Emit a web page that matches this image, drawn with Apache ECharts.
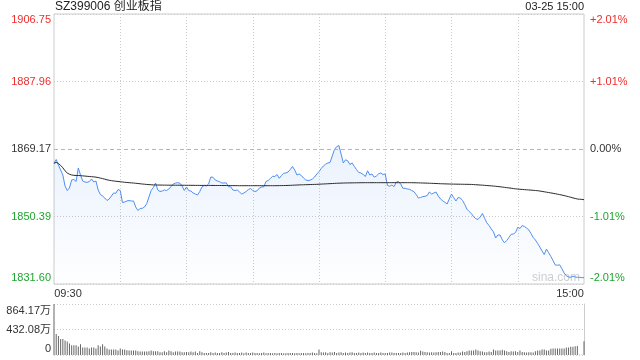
<!DOCTYPE html>
<html><head><meta charset="utf-8">
<script src="https://cdn.jsdelivr.net/npm/echarts@6/dist/echarts.min.js"></script>
<style>html,body{margin:0;padding:0;background:#fff}#c{width:640px;height:360px}</style>
</head><body><div id="c"></div>
<script>
const chartTitle = 'SZ399006 创业板指';
const stamp = '03-25 15:00';
const watermark = 'sina.com';
const prevClose = 1869.17;
const priceMin = 1831.60, priceMax = 1906.75;
const pctMax = 2.01;
const priceTickLabels = ['1831.60','1850.39','1869.17','1887.96','1906.75'];
const pctTickLabels = ['-2.01%','-1.01%','0.00%','+1.01%','+2.01%'];
const volMax = 864.17;
const volTickLabels = ['0','432.08万','864.17万'];
const timeLabels = ['09:30','15:00'];

const price = [
1865.20,1866.25,1864.72,1863.33,1861.94,1858.88,1857.62,1858.32,1860.55,1860.69,
1860.13,1863.89,1861.94,1860.27,1859.99,1859.91,1860.13,1860.83,1859.99,1860.27,
1857.76,1856.51,1856.09,1855.54,1854.84,1855.26,1856.09,1856.93,1856.85,1857.90,
1857.62,1854.28,1854.42,1854.70,1854.84,1854.70,1854.70,1853.03,1852.06,1852.61,
1852.67,1853.03,1854.01,1855.82,1857.62,1858.46,1859.71,1857.76,1857.34,1857.48,
1857.76,1857.62,1858.04,1858.74,1859.43,1859.68,1859.80,1859.66,1858.88,1857.62,
1858.60,1857.62,1857.48,1856.93,1856.65,1856.37,1857.34,1858.60,1859.02,1858.88,
1859.43,1861.38,1861.30,1860.55,1860.27,1860.07,1859.71,1859.71,1859.77,1858.68,
1858.68,1857.76,1857.62,1857.76,1857.21,1856.65,1856.93,1857.34,1857.90,1858.18,
1857.62,1857.34,1857.57,1858.32,1858.60,1858.65,1860.13,1860.41,1860.97,1861.58,
1861.52,1862.08,1861.02,1861.80,1862.41,1862.50,1862.78,1863.47,1864.31,1863.33,
1861.94,1862.22,1861.80,1861.10,1860.55,1860.41,1860.49,1860.83,1861.38,1862.22,
1862.86,1863.75,1864.44,1864.95,1865.28,1865.42,1867.23,1869.04,1869.82,1870.15,
1867.78,1865.28,1866.17,1865.89,1864.86,1865.28,1864.31,1863.42,1862.64,1862.50,
1862.08,1861.52,1863.11,1861.94,1862.22,1861.33,1861.66,1862.27,1862.50,1862.08,
1862.22,1859.02,1858.82,1859.16,1858.71,1859.99,1860.13,1859.43,1858.24,1858.24,
1858.04,1857.96,1857.62,1857.29,1856.51,1855.54,1855.68,1855.93,1856.01,1856.23,
1857.21,1856.65,1856.93,1857.21,1856.09,1855.26,1854.76,1854.34,1853.87,1855.26,
1856.65,1855.68,1854.70,1855.68,1855.54,1854.84,1853.73,1852.42,1851.78,1851.22,
1850.33,1849.78,1849.58,1850.25,1851.22,1849.89,1848.63,1847.88,1846.91,1846.13,
1844.40,1845.24,1845.24,1843.90,1843.07,1843.71,1844.54,1845.43,1845.51,1845.93,
1847.38,1847.05,1847.85,1847.60,1847.18,1846.68,1845.65,1844.54,1843.85,1842.87,
1841.90,1840.79,1839.81,1841.34,1840.29,1839.26,1838.06,1836.89,1836.83,1836.94,
1835.83,1834.66,1833.88,1833.55,1833.46,1833.77,1833.55,1833.46,1833.46,1833.38,
1833.35];

const avgPrice = [
1865.20,1865.45,1865.15,1864.60,1863.95,1863.10,1862.50,1862.15,1861.95,1861.85,
1861.80,1861.80,1861.76,1861.70,1861.64,1861.58,1861.52,1861.47,1861.42,1861.34,
1861.22,1861.08,1860.93,1860.78,1860.60,1860.47,1860.37,1860.28,1860.20,1860.13,
1860.07,1859.99,1859.92,1859.86,1859.80,1859.75,1859.70,1859.64,1859.57,1859.50,
1859.43,1859.37,1859.31,1859.26,1859.22,1859.18,1859.16,1859.15,1859.14,1859.13,
1859.12,1859.11,1859.10,1859.10,1859.09,1859.09,1859.09,1859.09,1859.08,1859.08,
1859.07,1859.07,1859.06,1859.06,1859.05,1859.05,1859.04,1859.04,1859.04,1859.03,
1859.03,1859.03,1859.03,1859.02,1859.02,1859.02,1859.01,1859.01,1859.00,1859.00,
1858.99,1858.98,1858.97,1858.97,1858.96,1858.96,1858.96,1858.96,1858.96,1858.96,
1858.96,1858.96,1858.96,1858.96,1858.96,1858.96,1858.96,1858.96,1858.96,1858.96,
1858.96,1858.97,1858.98,1858.99,1859.00,1859.02,1859.04,1859.06,1859.09,1859.12,
1859.15,1859.18,1859.20,1859.22,1859.24,1859.26,1859.28,1859.30,1859.32,1859.34,
1859.38,1859.41,1859.44,1859.47,1859.50,1859.53,1859.56,1859.60,1859.63,1859.66,
1859.68,1859.70,1859.72,1859.73,1859.74,1859.75,1859.76,1859.77,1859.78,1859.79,
1859.79,1859.80,1859.80,1859.80,1859.80,1859.80,1859.80,1859.80,1859.80,1859.80,
1859.80,1859.80,1859.80,1859.80,1859.80,1859.80,1859.80,1859.80,1859.80,1859.80,
1859.80,1859.80,1859.79,1859.78,1859.77,1859.75,1859.73,1859.71,1859.69,1859.67,
1859.65,1859.62,1859.60,1859.57,1859.54,1859.51,1859.49,1859.47,1859.45,1859.43,
1859.41,1859.40,1859.39,1859.38,1859.37,1859.36,1859.35,1859.34,1859.33,1859.31,
1859.27,1859.23,1859.19,1859.15,1859.11,1859.06,1859.01,1858.96,1858.91,1858.86,
1858.80,1858.73,1858.66,1858.58,1858.50,1858.42,1858.34,1858.26,1858.17,1858.08,
1858.02,1857.97,1857.92,1857.87,1857.82,1857.78,1857.73,1857.68,1857.62,1857.57,
1857.48,1857.38,1857.27,1857.16,1857.05,1856.95,1856.84,1856.72,1856.60,1856.48,
1856.35,1856.21,1856.06,1855.90,1855.74,1855.57,1855.41,1855.25,1855.20,1855.15,
1855.07];

const volume = [
864.17,356,321,269,269,245,228,193,164,164,
164,146,181,128,128,128,111,128,128,111,
164,146,181,146,111,93,93,93,93,76,
111,93,93,82,76,76,76,76,64,58,
58,58,58,64,76,64,64,64,47,47,
64,47,76,64,47,58,58,58,47,47,
52,47,58,47,58,35,64,47,35,35,
35,47,35,41,35,35,47,35,41,52,
35,35,41,35,35,41,29,41,35,35,
41,35,35,29,35,41,29,35,35,29,
35,29,35,35,29,29,35,35,35,29,
35,29,35,35,29,35,35,41,35,29,
93,47,41,47,35,47,41,52,35,41,
47,35,41,35,41,47,35,35,41,35,
41,35,41,35,35,41,35,35,41,35,
35,35,41,41,35,35,35,35,41,35,
41,47,52,52,47,41,70,58,52,47,
41,47,41,47,52,52,58,52,35,35,
64,35,35,41,41,58,52,64,76,76,
76,93,76,64,58,47,47,58,52,93,
76,76,76,88,76,64,52,64,58,64,
52,76,52,47,41,47,47,41,64,76,
76,93,93,76,76,105,111,111,111,111,
111,111,128,128,140,140,150,153,4,4,
234];

const times = [];
for (let i = 0; i <= 240; i++) {
  const m = i <= 120 ? 9 * 60 + 30 + i : 13 * 60 + (i - 120);
  times.push(String(Math.floor(m / 60)).padStart(2, '0') + ':' + String(m % 60).padStart(2, '0'));
}

const FONT = 'Arial, "Liberation Sans", "Noto Sans CJK SC", sans-serif';
const RED = '#f02c2c', GREEN = '#1fa52f', DARK = '#333';
const pctInterval = pctMax / 2;
const lblColors = [GREEN, GREEN, DARK, RED, RED];
function richFor(colors, padTop, padBot) {
  const r = {};
  colors.forEach((c, k) => {
    const s = {color: c, fontSize: 11, fontFamily: FONT};
    if (k === 0) s.padding = [0, 0, padBot, 0];
    if (k === colors.length - 1) s.padding = [padTop, 0, 0, 0];
    r['p' + k] = s;
  });
  return r;
}

const chart = echarts.init(document.getElementById('c'), null, {renderer: 'canvas'});
chart.setOption({
  animation: false,
  backgroundColor: '#fff',
  title: [
    {text: chartTitle, left: 55, top: 1, padding: 0, textStyle: {fontSize: 12, fontWeight: 'normal', color: '#222', fontFamily: FONT}},
    {text: stamp, right: 56, top: 1, padding: 0, textStyle: {fontSize: 11, fontWeight: 'normal', color: '#222', fontFamily: FONT}}
  ],
  graphic: [{type: 'text', left: 532, top: 272, silent: true, style: {text: watermark, fill: '#cfcfcf', font: '12px ' + FONT}}],
  grid: [
    {left: 54, right: 56, top: 14, height: 270, show: true, borderColor: '#cccccc', borderWidth: 1, backgroundColor: 'transparent'},
    {left: 54, right: 56, top: 304, height: 51}
  ],
  xAxis: [
    {type: 'category', gridIndex: 0, data: times, boundaryGap: false,
     axisLine: {show: false}, axisTick: {show: false},
     axisLabel: {interval: (i) => i === 0 || i === 240, margin: 4,
       formatter: (v, i) => i === 0 ? '{l|' + timeLabels[0] + '}' : '{r|' + timeLabels[1] + '}',
       rich: {l: {padding: [0, 0, 0, 28], fontSize: 11, color: DARK, fontFamily: FONT},
              r: {padding: [0, 28, 0, 0], fontSize: 11, color: DARK, fontFamily: FONT}}},
     splitLine: {show: true, interval: (i) => i % 30 === 0 && i > 0 && i < 240, lineStyle: {color: '#cccccc', type: [1, 2]}}},
    {type: 'category', gridIndex: 1, data: times, boundaryGap: false,
     axisLine: {show: false}, axisTick: {show: false}, axisLabel: {show: false}, splitLine: {show: false}}
  ],
  yAxis: [
    {type: 'value', gridIndex: 0, position: 'left', min: -pctMax, max: pctMax, interval: pctInterval,
     axisLine: {show: false}, axisTick: {show: false},
     axisLabel: {margin: 3, formatter: (v) => { const k = Math.round((v + pctMax) / pctInterval); return '{p' + k + '|' + priceTickLabels[k] + '}'; },
       rich: richFor(lblColors, 12, 12)},
     splitLine: {show: true, lineStyle: {color: ['#cccccc', '#cccccc', 'rgba(0,0,0,0)', '#cccccc', '#cccccc'], type: [1, 2]}}},
    {type: 'value', gridIndex: 0, position: 'right', min: -pctMax, max: pctMax, interval: pctInterval,
     axisLine: {show: false}, axisTick: {show: false}, splitLine: {show: false},
     axisLabel: {margin: 6, formatter: (v) => { const k = Math.round((v + pctMax) / pctInterval); return '{p' + k + '|' + pctTickLabels[k] + '}'; },
       rich: richFor(lblColors, 12, 12)}},
    {type: 'value', gridIndex: 0, min: priceMin, max: priceMax, show: false, splitLine: {show: false}},
    {type: 'value', gridIndex: 1, position: 'left', min: 0, max: volMax, interval: volMax / 2,
     axisLine: {show: false}, axisTick: {show: false},
     axisLabel: {margin: 3, formatter: (v) => { const k = Math.round(v / (volMax / 2)); return '{p' + k + '|' + volTickLabels[k] + '}'; },
       rich: richFor([DARK, DARK, DARK], 14, 12)},
     splitLine: {show: true, lineStyle: {color: '#cccccc', type: [1, 2]}}},
    {type: 'value', gridIndex: 1, position: 'right', min: 0, max: volMax, interval: volMax / 2,
     axisLine: {show: true, lineStyle: {color: '#cccccc'}}, axisTick: {show: false}, axisLabel: {show: false}, splitLine: {show: false}}
  ],
  series: [
    {type: 'line', name: 'price', xAxisIndex: 0, yAxisIndex: 2, data: price, showSymbol: false,
     lineStyle: {color: '#4e8ff2', width: 1},
     areaStyle: {origin: 'start', color: new echarts.graphic.LinearGradient(0, 0, 0, 1, [
        {offset: 0, color: 'rgba(78,143,242,0.16)'}, {offset: 1, color: 'rgba(78,143,242,0.01)'}])},
     markLine: {silent: true, symbol: 'none', label: {show: false},
       lineStyle: {color: '#f4a46c', type: [4, 3], width: 1}, data: [{yAxis: prevClose}]}},
    {type: 'line', name: 'avg', xAxisIndex: 0, yAxisIndex: 2, data: avgPrice, showSymbol: false,
     lineStyle: {color: '#2b2b2b', width: 1}},
    {type: 'bar', name: 'vol', xAxisIndex: 1, yAxisIndex: 3, data: volume, barWidth: 1, clip: false,
     itemStyle: {color: '#666666'}}
  ]
});
</script></body></html>
